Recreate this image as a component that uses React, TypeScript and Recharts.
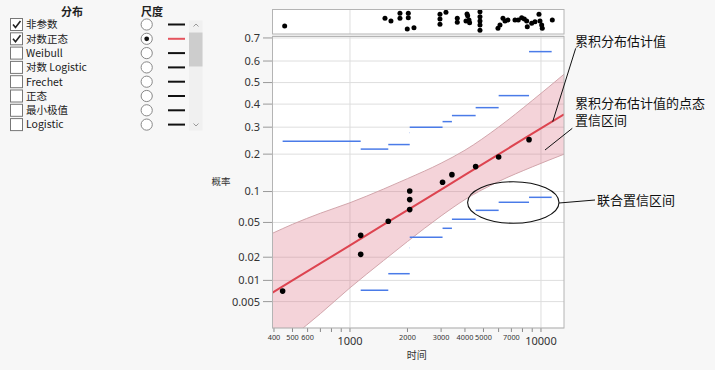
import React from "react";
import {
  ComposedChart,
  ScatterChart,
  Scatter,
  Area,
  Line,
  XAxis,
  YAxis,
  CartesianGrid,
  ReferenceLine,
} from "recharts";

const FONT = '"Segoe UI", "Noto Sans", "Noto Sans CJK SC", sans-serif';
const CJK = '"Noto Sans CJK SC", "Noto Sans", sans-serif';

// left panel
const distNames = ["非参数", "对数正态", "Weibull", "对数 Logistic", "Frechet", "正态", "最小极值", "Logistic"];
const distChecked = [true, true, false, false, false, false, false, false];
const scaleSelected = 1;

// axes
const timeTicks = [400, 500, 600, 700, 800, 900, 1000, 2000, 3000, 4000, 5000, 6000, 7000, 8000, 9000, 10000];
const timeLabels = ["400", "500", "600", "", "", "", "1000", "2000", "3000", "4000", "5000", "", "7000", "", "", "10000"];
const probTicks = [0.005, 0.01, 0.02, 0.05, 0.1, 0.2, 0.3, 0.4, 0.5, 0.6, 0.7];
const probLabels = ["0.005", "0.01", "0.02", "0.05", "0.1", "0.2", "0.3", "0.4", "0.5", "0.6", "0.7"];
const timeMin = 390.6;
const timeMax = 13200;
const probMin = 0.00195;
const probMax = 0.708;

// failures (midpoint estimates)
const failTimes = [444, 1138, 1138, 1587, 2055, 2055, 2055, 3053, 3418, 4550, 6004, 8660];
const failProbs = [0.0071, 0.0217, 0.0362, 0.0514, 0.0676, 0.0844, 0.101, 0.1205, 0.1394, 0.1615, 0.1908, 0.251];

// lognormal fit + pointwise band
const fitTimes = [391, 500, 700, 1000, 1500, 2000, 3000, 4000, 6000, 9000, 13200];
const fitProbs = [0.0067, 0.01, 0.0167, 0.0278, 0.0473, 0.0669, 0.1042, 0.1389, 0.1995, 0.2738, 0.3548];
const bandLower = [0.00075, 0.00141, 0.00329, 0.0079, 0.0182, 0.0308, 0.0584, 0.0845, 0.1223, 0.1607, 0.1998];
const bandUpper = [0.038, 0.0478, 0.0622, 0.0788, 0.1053, 0.1293, 0.1716, 0.2132, 0.3003, 0.4162, 0.5389];

// simultaneous band steps
const stepStart = [444, 1138, 1587, 2055, 3053, 3418, 4550, 6004, 8660];
const stepEnd = [1138, 1587, 2055, 3053, 3418, 4550, 6004, 8660, 11376];
const stepUpper = [0.245, 0.217, 0.233, 0.3, 0.323, 0.349, 0.384, 0.439, 0.642];
const stepLower = [0, 0.0073, 0.0123, 0.0344, 0.0433, 0.054, 0.0665, 0.0796, 0.0886];
const tieStart = 2046;
const tieEnd = 2058;
const tieUpper = 0.278;
const tieLower = 0.026;

// all observations (top strip), jitter 0..1
const stripTimes = [455, 1525, 1639, 1827, 1827, 2020, 2020, 1995, 2163, 2959, 2959, 2959, 3181, 3646, 3646,
  4100, 4132, 4198, 4050, 4230, 4793, 4793, 4793, 4793, 4793, 5955, 6100, 6324, 6479, 6718,
  7310, 7606, 7925, 8178, 8417, 8478, 8941, 9303, 9761, 9880, 10085, 10158, 11462];
const stripJitter = [0.32, 0.63, 0.52, 0.83, 0.63, 0.83, 0.65, 0.2, 0.25, 0.79, 0.6, 0.39, 0.87, 0.63, 0.47,
  0.8, 0.73, 0.56, 0.52, 0.45, 0.89, 0.69, 0.52, 0.36, 0.15, 0.23, 0.36, 0.63, 0.52, 0.56,
  0.56, 0.56, 0.65, 0.6, 0.52, 0.29, 0.43, 0.49, 0.79, 0.52, 0.36, 0.23, 0.56];

// inverse normal cdf (probability scale)
function probit(p: number): number {
  const a = [-39.69683028665376, 220.9460984245205, -275.9285104469687, 138.357751867269, -30.66479806614716, 2.506628277459239];
  const b = [-54.47609879822406, 161.5858368580409, -155.6989798598866, 66.80131188771972, -13.28068155288572];
  const c = [-0.007784894002430293, -0.3223964580411365, -2.400758277161838, -2.549732539343734, 4.374664141464968, 2.938163982698783];
  const d = [0.007784695709041462, 0.3224671290700398, 2.445134137142996, 3.754408661907416];
  const pl = 0.02425;
  if (p < pl) {
    const q = Math.sqrt(-2 * Math.log(p));
    return (((((c[0] * q + c[1]) * q + c[2]) * q + c[3]) * q + c[4]) * q + c[5]) / ((((d[0] * q + d[1]) * q + d[2]) * q + d[3]) * q + 1);
  }
  if (p > 1 - pl) {
    const q = Math.sqrt(-2 * Math.log(1 - p));
    return -(((((c[0] * q + c[1]) * q + c[2]) * q + c[3]) * q + c[4]) * q + c[5]) / ((((d[0] * q + d[1]) * q + d[2]) * q + d[3]) * q + 1);
  }
  const q = p - 0.5;
  const r = q * q;
  return ((((((a[0] * r + a[1]) * r + a[2]) * r + a[3]) * r + a[4]) * r + a[5]) * q) / (((((b[0] * r + b[1]) * r + b[2]) * r + b[3]) * r + b[4]) * r + 1);
}

const lg = Math.log10;
const xDomain = [lg(timeMin), lg(timeMax)];
const yDomain = [probit(probMin), probit(probMax)];

const fitData = fitTimes.map((t, i) => ({
  lx: lg(t),
  band: [probit(bandLower[i]), probit(bandUpper[i])],
  fit: probit(fitProbs[i]),
}));
const pointData = failTimes.map((t, i) => ({ lx: lg(t), z: probit(failProbs[i]) }));
const stripData = stripTimes.map((t, i) => ({ lx: lg(t), j: stripJitter[i] }));

const BLUE = "#4a7be8";

const TimeTick = (props: any) => {
  const { x, y, payload } = props;
  const idx = timeTicks.findIndex((t) => Math.abs(lg(t) - payload.value) < 1e-6);
  const label = timeLabels[idx];
  if (!label) return null;
  const big = label === "1000" || label === "10000";
  return (
    <text x={x} y={y + (big ? 10.5 : 5.5)} textAnchor="middle" fontSize={big ? 11 : 7.3} fill="#333" fontFamily={FONT}>
      {label}
    </text>
  );
};

const Dot = (props: any) => <circle cx={props.cx} cy={props.cy} r={2.8} fill="#000" />;
const StripDot = (props: any) => <circle cx={props.cx} cy={props.cy} r={2.5} fill="#000" />;

function LeftPanel() {
  return (
    <svg width={210} height={140} style={{ position: "absolute", left: 0, top: 0 }}>
      <text x={72} y={15.5} textAnchor="middle" fontSize={11} fontWeight="bold" fill="#222" fontFamily={CJK}>分布</text>
      <text x={152} y={15.5} textAnchor="middle" fontSize={11} fontWeight="bold" fill="#222" fontFamily={CJK}>尺度</text>
      {distNames.map((name, i) => {
        const cy = 24.5 + i * 14.3;
        return (
          <g key={name}>
            <rect x={10.5} y={cy - 6} width={12} height={12} fill="#fff" stroke="#777" />
            {distChecked[i] && (
              <path d={`M${13} ${cy} L${15.5} ${cy + 3} L${20.5} ${cy - 3.5}`} stroke="#222" strokeWidth={1.6} fill="none" />
            )}
            <text x={26} y={cy + 3.8} fontSize={10.5} fill="#222" fontFamily={CJK}>{name}</text>
            <circle cx={146.7} cy={cy} r={5.6} fill="#fff" stroke="#888" />
            {scaleSelected === i && <circle cx={146.7} cy={cy} r={2.4} fill="#111" />}
            <line x1={168} x2={185} y1={cy} y2={cy} stroke={scaleSelected === i ? "#e5545e" : "#111"} strokeWidth={2} />
          </g>
        );
      })}
      <rect x={189} y={20.5} width={13.5} height={110} fill="#f0f0f0" />
      <rect x={189} y={32.5} width={13.5} height={34} fill="#cdcdcd" />
      <path d="M193.5 26.5 L196 24 L198.5 26.5" stroke="#999" fill="none" />
      <path d="M193.5 123.5 L196 126 L198.5 123.5" stroke="#999" fill="none" />
    </svg>
  );
}

export default function App() {
  return (
    <div style={{ position: "absolute", left: 0, top: 0, width: 715, height: 370, background: "#f7f7f7", overflow: "hidden" }}>
      <LeftPanel />
      <div style={{ position: "absolute", left: 0, top: 0 }}>
        <ScatterChart width={715} height={40} margin={{ top: 9, right: 151, bottom: 6, left: 272 }}>
          <CartesianGrid fill="#fff" horizontal={false} verticalValues={[3, 4]} stroke="#dedede" />
          <XAxis type="number" dataKey="lx" domain={xDomain} allowDataOverflow hide />
          <YAxis type="number" dataKey="j" domain={[0, 1]} hide />
          <Scatter data={stripData} shape={StripDot} isAnimationActive={false} />
        </ScatterChart>
      </div>
      <div style={{ position: "absolute", left: 0, top: 0 }}>
        <ComposedChart width={715} height={370} data={fitData} margin={{ top: 36, right: 151, bottom: 12, left: 214 }}>
          <CartesianGrid fill="#fff" verticalValues={[3, 4]} stroke="#dedede" />
          <XAxis
            type="number"
            dataKey="lx"
            domain={xDomain}
            allowDataOverflow
            ticks={timeTicks.map(lg)}
            tick={<TimeTick />}
            tickSize={4}
            tickMargin={2}
            height={30}
            axisLine={false}
            tickLine={{ stroke: "#888" }}
            interval={0}
          />
          <YAxis
            type="number"
            domain={yDomain}
            allowDataOverflow
            ticks={probTicks.map(probit)}
            tickFormatter={(v: number, i: number) => probLabels[i]}
            width={58}
            tickSize={9}
            tickMargin={3}
            axisLine={false}
            tickLine={{ stroke: "#999" }}
            tick={{ fontSize: 11, fill: "#333", fontFamily: FONT }}
            interval={0}
          />
          <Area
            dataKey="band"
            type="monotone"
            fill="#dc6e80"
            fillOpacity={0.3}
            stroke="#d2a6ac"
            strokeWidth={1}
            isAnimationActive={false}
          />
          <Line dataKey="fit" type="linear" stroke="#dd4450" strokeWidth={2} dot={false} isAnimationActive={false} />
          {stepStart.map((s, i) => (
            <ReferenceLine
              key={"u" + i}
              segment={[
                { x: lg(s), y: probit(stepUpper[i]) },
                { x: lg(stepEnd[i]), y: probit(stepUpper[i]) },
              ]}
              stroke={BLUE}
              strokeWidth={1.5}
            />
          ))}
          {stepStart.map((s, i) =>
            stepLower[i] > 0 ? (
              <ReferenceLine
                key={"l" + i}
                segment={[
                  { x: lg(s), y: probit(stepLower[i]) },
                  { x: lg(stepEnd[i]), y: probit(stepLower[i]) },
                ]}
                stroke={BLUE}
                strokeWidth={1.5}
              />
            ) : null
          )}
          <ReferenceLine segment={[{ x: lg(tieStart), y: probit(tieUpper) }, { x: lg(tieEnd), y: probit(tieUpper) }]} stroke={BLUE} strokeWidth={1.2} strokeOpacity={0.5} />
          <ReferenceLine segment={[{ x: lg(tieStart), y: probit(tieLower) }, { x: lg(tieEnd), y: probit(tieLower) }]} stroke={BLUE} strokeWidth={1.2} strokeOpacity={0.5} />
          <Scatter data={pointData} dataKey="z" shape={Dot} isAnimationActive={false} />
        </ComposedChart>
      </div>
      <svg width={715} height={370} style={{ position: "absolute", left: 0, top: 0, pointerEvents: "none" }}>
        <rect x={272.5} y={9.5} width={291.5} height={24.5} fill="none" stroke="#b4b4b4" />
        <rect x={272.5} y={36.5} width={291.5} height={291.5} fill="none" stroke="#b4b4b4" />
        <ellipse cx={513.3} cy={202.5} rx={45.7} ry={20.8} fill="none" stroke="#111" strokeWidth={1.1} />
        <line x1={559} y1={203} x2={595} y2={200} stroke="#111" />
        <line x1={575.7} y1={48.3} x2={552.7} y2={121.7} stroke="#111" />
        <line x1={572.3} y1={128.3} x2={545} y2={150} stroke="#111" />
        <g fontFamily={CJK} fontSize={13} fill="#111">
          <text x={575} y={45.5}>累积分布估计值</text>
          <text x={575} y={107.5}>累积分布估计值的点态</text>
          <text x={575} y={125}>置信区间</text>
          <text x={597} y={204.5}>联合置信区间</text>
        </g>
        <text x={221} y={185} textAnchor="middle" fontSize={9.5} fill="#333" fontFamily={CJK}>概率</text>
        <text x={416.7} y={358.5} textAnchor="middle" fontSize={10} fill="#333" fontFamily={CJK}>时间</text>
      </svg>
    </div>
  );
}
